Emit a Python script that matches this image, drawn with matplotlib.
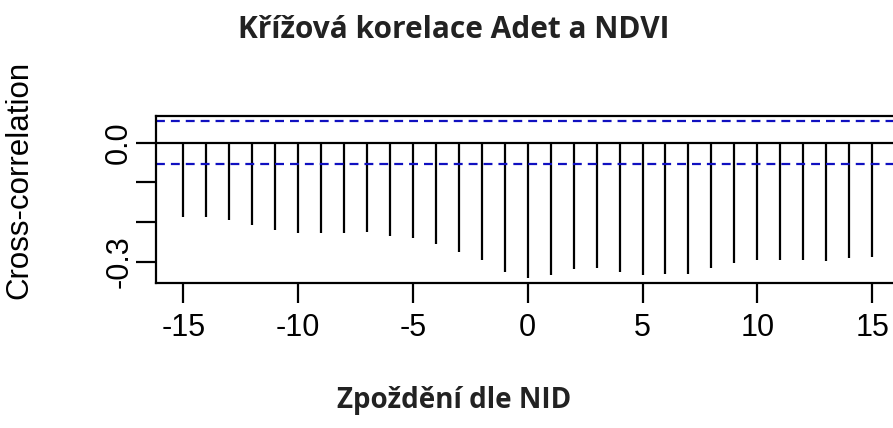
import numpy as np
import matplotlib.pyplot as plt

# cross-correlation of Adet and NDVI by lag
lags = list(range(-15, 16))
ccf_vals = [-0.186, -0.186, -0.196, -0.207, -0.219, -0.227, -0.227, -0.227,
            -0.224, -0.236, -0.240, -0.254, -0.275, -0.296, -0.327,
            -0.340, -0.333, -0.317, -0.315, -0.327, -0.333, -0.331, -0.331,
            -0.315, -0.303, -0.296, -0.295, -0.296, -0.299, -0.291, -0.289]
ci = 0.054
x_ticks = [-15, -10, -5, 0, 5, 10, 15]
y_ticks = [-0.3, -0.2, -0.1, 0.0]
y_ticklabels = ["-0.3", "", "", "0.0"]

title = "Křížová korelace Adet a NDVI"
xlabel = "Zpoždění dle NID"
ylabel = "Cross-correlation"

fig = plt.figure(figsize=(8.93, 4.28), dpi=100)
ax = fig.add_axes([0.1744, 0.3395, 0.8331, 0.3902])

ax.vlines(lags, 0, ccf_vals, color="black", lw=1.6)
ax.axhline(0, color="black", lw=1.6)
ax.axhline(ci, color="#1010c0", lw=1.6, ls=(0, (4, 2.7)))
ax.axhline(-ci, color="#1010c0", lw=1.6, ls=(0, (4, 2.7)))

ax.set_xlim(-16.2, 16.2)
ax.set_ylim(-0.3527, 0.068)
ax.set_xticks(x_ticks)
ax.set_xticklabels([str(v) for v in x_ticks], fontfamily="Liberation Sans", fontsize=22)
ax.set_yticks(y_ticks)
ax.set_yticklabels(y_ticklabels, fontfamily="Liberation Sans", fontsize=22,
                   rotation=90, va="center")
ax.tick_params(axis="both", length=14.5, width=1.6)
ax.tick_params(axis="x", pad=7)
ax.tick_params(axis="y", pad=1)
for s in ax.spines.values():
    s.set_linewidth(1.6)

fig.text(0.508, 0.93, title, ha="center", va="center", fontsize=21.5,
         fontweight="bold", fontfamily="Open Sans", color="#222222")
fig.text(0.508, 0.065, xlabel, ha="center", va="center", fontsize=20,
         fontweight="bold", fontfamily="Open Sans", color="#222222")
fig.text(0.022, 0.58, ylabel, ha="center", va="center", rotation=90,
         fontsize=22.5, fontfamily="Liberation Sans")

fig.savefig("out.png", dpi=100)
